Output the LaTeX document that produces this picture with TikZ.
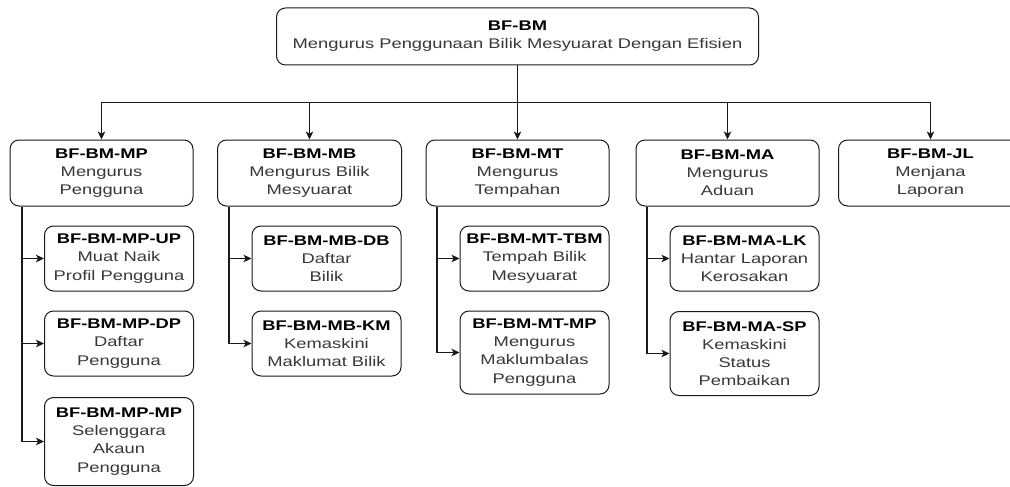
\documentclass[tikz,border=0pt]{standalone}
\usepackage{fontspec}
\setmainfont{Liberation Sans}[FakeStretch=1.31]
\usetikzlibrary{arrows.meta}

\definecolor{edgeline}{HTML}{1A1A1A}
\definecolor{bodytext}{HTML}{383838}

\tikzset{
  card/.style={draw=edgeline, line width=1pt, rounded corners=9pt, fill=white,
    align=center, inner sep=0pt, text=bodytext,
    font=\fontsize{14}{18.2}\selectfont},
  lvltwo/.style={card, minimum width=183, minimum height=66},
  leaf/.style={card, minimum width=149, minimum height=65},
  link/.style={draw=edgeline, line width=1.1pt,
    -{Stealth[length=8pt,width=7.5pt,inset=2pt]}},
}
\newcommand\cardtitle[1]{\textbf{\color{black}#1}}

\begin{document}
\begin{tikzpicture}[x=1pt,y=-1pt]
\useasboundingbox (0,0) rectangle (1010,487);
\clip (0,0) rectangle (1010,487);

% root
\node[card, minimum width=482, minimum height=57] (root) at (517.5,36.5)
  {\cardtitle{BF-BM}\\Mengurus Penggunaan Bilik Mesyuarat Dengan Efisien};

% second level
\node[lvltwo] (mp) at (101.5,173) {\cardtitle{BF-BM-MP}\\Mengurus\\Pengguna};
\node[lvltwo, minimum width=184] (mb) at (309.5,173) {\cardtitle{BF-BM-MB}\\Mengurus Bilik\\Mesyuarat};
\node[lvltwo] (mt) at (517.5,173) {\cardtitle{BF-BM-MT}\\Mengurus\\Tempahan};
\node[lvltwo] (ma) at (727.5,173) {\cardtitle{BF-BM-MA}\\Mengurus\\Aduan};
\node[lvltwo, minimum width=184] (jl) at (930.5,173) {\cardtitle{BF-BM-JL}\\Menjana\\Laporan};

% leaves: Mengurus Pengguna
\node[leaf] (up) at (119,258.5) {\cardtitle{BF-BM-MP-UP}\\Muat Naik\\Profil Pengguna};
\node[leaf] (dp) at (119,343.5) {\cardtitle{BF-BM-MP-DP}\\Daftar\\Pengguna};
\node[leaf, minimum height=88] (mpmp) at (119,441.5) {\cardtitle{BF-BM-MP-MP}\\Selenggara\\Akaun\\Pengguna};

% leaves: Mengurus Bilik Mesyuarat
\node[leaf] (db) at (326.5,258.5) {\cardtitle{BF-BM-MB-DB}\\Daftar\\Bilik};
\node[leaf] (km) at (326.5,343.5) {\cardtitle{BF-BM-MB-KM}\\Kemaskini\\Maklumat Bilik};

% leaves: Mengurus Tempahan
\node[leaf] (tbm) at (534.5,258.5) {\cardtitle{BF-BM-MT-TBM}\\Tempah Bilik\\Mesyuarat};
\node[leaf, minimum height=83] (mtmp) at (534.5,352.5) {\cardtitle{BF-BM-MT-MP}\\Mengurus\\Maklumbalas\\Pengguna};

% leaves: Mengurus Aduan
\node[leaf] (lk) at (744.5,258.5) {\cardtitle{BF-BM-MA-LK}\\Hantar Laporan\\Kerosakan};
\node[leaf, minimum height=84] (sp) at (744.5,353.5) {\cardtitle{BF-BM-MA-SP}\\Kemaskini\\Status\\Pembaikan};

% root to second level
\foreach \c in {mp,mb,mt,ma,jl}
  \draw[link] (root.south) -- ++(0,37) -| (\c.north);

% trunks down the left side of each branch
\coordinate (mpt) at ([xshift=12.5pt]mp.south west);
\coordinate (mbt) at ([xshift=12pt]mb.south west);
\coordinate (mtt) at ([xshift=11.5pt]mt.south west);
\coordinate (mat) at ([xshift=11.5pt]ma.south west);

\draw[link] (mpt) |- (up.west);
\draw[link] (mpt) |- (dp.west);
\draw[link] (mpt) |- (mpmp.west);
\draw[link] (mbt) |- (db.west);
\draw[link] (mbt) |- (km.west);
\draw[link] (mtt) |- (tbm.west);
\draw[link] (mtt) |- (mtmp.west);
\draw[link] (mat) |- (lk.west);
\draw[link] (mat) |- (sp.west);
\end{tikzpicture}
\end{document}
